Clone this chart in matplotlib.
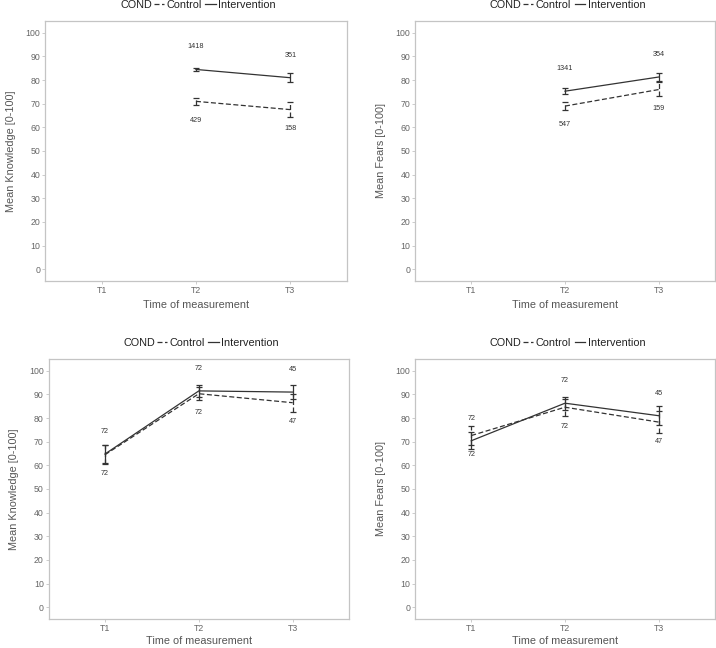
import numpy as np
import matplotlib
matplotlib.use("Agg")
import matplotlib.pyplot as plt
from matplotlib.lines import Line2D

plt.rcParams['font.family'] = ['Liberation Sans', 'DejaVu Sans']

# time points (categorical x)
times = ["T1", "T2", "T3"]

# top left - knowledge, T2/T3 only
know1_int = [np.nan, 84.5, 81.0]
know1_int_lo = [np.nan, 83.7, 79.0]
know1_int_hi = [np.nan, 85.3, 83.0]
know1_ctl = [np.nan, 71.0, 67.5]
know1_ctl_lo = [np.nan, 69.3, 64.3]
know1_ctl_hi = [np.nan, 72.6, 70.6]
know1_n_int = ["", "1418", "351"]
know1_n_ctl = ["", "429", "158"]

# top right - fears, T2/T3 only
fear1_int = [np.nan, 75.3, 81.3]
fear1_int_lo = [np.nan, 74.0, 79.5]
fear1_int_hi = [np.nan, 76.5, 83.0]
fear1_ctl = [np.nan, 69.0, 76.0]
fear1_ctl_lo = [np.nan, 67.3, 73.3]
fear1_ctl_hi = [np.nan, 70.7, 79.0]
fear1_n_int = ["", "1341", "354"]
fear1_n_ctl = ["", "547", "159"]

# bottom left - knowledge, all three
know2_int = [64.8, 91.5, 91.0]
know2_int_lo = [61.0, 89.0, 88.2]
know2_int_hi = [68.8, 94.0, 94.0]
know2_ctl = [64.5, 90.3, 86.5]
know2_ctl_lo = [60.5, 87.7, 82.7]
know2_ctl_hi = [68.5, 93.0, 90.3]
know2_n_int = ["72", "72", "45"]
know2_n_ctl = ["72", "72", "47"]

# bottom right - fears, all three
fear2_int = [70.4, 86.3, 81.0]
fear2_int_lo = [67.0, 83.5, 77.0]
fear2_int_hi = [74.0, 89.1, 85.0]
fear2_ctl = [72.6, 84.6, 78.3]
fear2_ctl_lo = [68.5, 81.0, 73.5]
fear2_ctl_hi = [76.5, 88.0, 83.0]
fear2_n_int = ["72", "72", "45"]
fear2_n_ctl = ["72", "72", "47"]

LINE = "#333333"
GRID = "#c4c4c4"
TXT = "#666666"
DASH = (0, (4, 2))


def panel(ax, ylabel, ints, ctls, n_int, n_ctl, xpad):
    x = np.arange(1, len(times) + 1)
    for (m, lo, hi), ls in [(ctls, DASH), (ints, "-")]:
        m = np.array(m)
        err = np.vstack([m - np.array(lo), np.array(hi) - m])
        ok = ~np.isnan(m)
        ax.plot(x[ok], m[ok], color=LINE, lw=0.9, linestyle=ls)
        eb = ax.errorbar(x[ok], m[ok], yerr=err[:, ok], fmt="none", ecolor=LINE,
                         elinewidth=0.9, capsize=2.2, capthick=0.9)
        eb[2][0].set_linestyle(ls)
    for xi, mi, lab in zip(x, ints[0], n_int):
        if lab:
            ax.text(xi, mi + 9.5, lab, ha="center", va="center", fontsize=5.2, color="#333333")
    for xi, mi, lab in zip(x, ctls[0], n_ctl):
        if lab:
            ax.text(xi, mi - 8.0, lab, ha="center", va="center", fontsize=5.2, color="#333333")

    ax.set_xlim(0.4, 3.6)
    ax.set_ylim(-5, 105)
    ax.set_xticks(x)
    ax.set_xticklabels(times)
    ax.set_yticks(np.arange(0, 101, 10))
    ax.tick_params(length=2, width=0.6, color=GRID, labelcolor=TXT, labelsize=6.3, pad=1.5)
    for s in ax.spines.values():
        s.set_color(GRID)
        s.set_linewidth(0.9)
    ax.set_xlabel("Time of measurement", color="#555555", fontsize=7.8, labelpad=xpad)
    ax.set_ylabel(ylabel, color="#555555", fontsize=7.8, labelpad=7)

    handles = [Line2D([], [], color=LINE, lw=0.9, linestyle=DASH),
               Line2D([], [], color=LINE, lw=0.9)]
    leg = ax.legend(handles, ["Control", "Intervention"], ncol=2, frameon=False,
                    loc="center left", bbox_to_anchor=(0.36, 1.062), fontsize=7.8,
                    handlelength=0.95, handletextpad=0.25, columnspacing=0.3,
                    borderaxespad=0, borderpad=0)
    for t in leg.get_texts():
        t.set_color("#222222")
    ax.text(0.25, 1.062, "COND", transform=ax.transAxes, ha="left", va="center",
            fontsize=7.8, color="#222222")


fig = plt.figure(figsize=(7.16, 6.48), dpi=100)
ax1 = fig.add_axes([0.0628, 0.5664, 0.4218, 0.4012])
ax2 = fig.add_axes([0.5796, 0.5664, 0.4190, 0.4012])
ax3 = fig.add_axes([0.0680, 0.0448, 0.4194, 0.4012])
ax4 = fig.add_axes([0.5796, 0.0448, 0.4190, 0.4012])

panel(ax1, "Mean Knowledge [0-100]",
      (know1_int, know1_int_lo, know1_int_hi), (know1_ctl, know1_ctl_lo, know1_ctl_hi),
      know1_n_int, know1_n_ctl, 4)
panel(ax2, "Mean Fears [0-100]",
      (fear1_int, fear1_int_lo, fear1_int_hi), (fear1_ctl, fear1_ctl_lo, fear1_ctl_hi),
      fear1_n_int, fear1_n_ctl, 4)
panel(ax3, "Mean Knowledge [0-100]",
      (know2_int, know2_int_lo, know2_int_hi), (know2_ctl, know2_ctl_lo, know2_ctl_hi),
      know2_n_int, know2_n_ctl, 2)
panel(ax4, "Mean Fears [0-100]",
      (fear2_int, fear2_int_lo, fear2_int_hi), (fear2_ctl, fear2_ctl_lo, fear2_ctl_hi),
      fear2_n_int, fear2_n_ctl, 2)

fig.savefig("out.png", dpi=100, facecolor="white")
